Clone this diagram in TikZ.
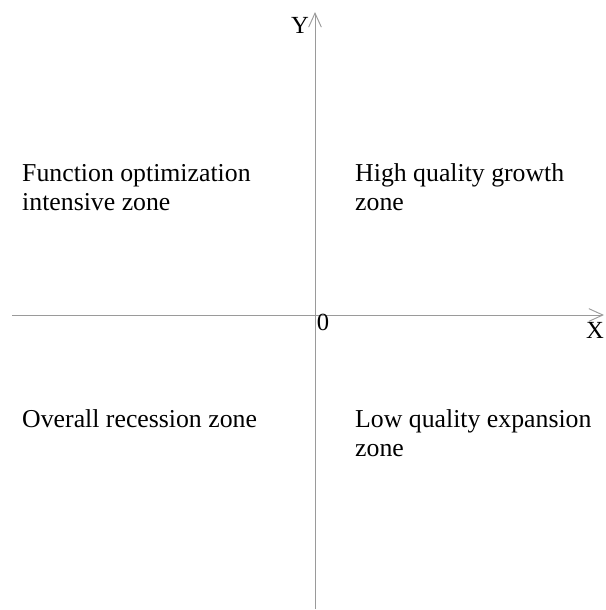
\documentclass[tikz,border=0pt]{standalone}
\usepackage{fontspec}
\setmainfont{Liberation Serif}
\usetikzlibrary{arrows.meta}
\definecolor{axisGray}{HTML}{9A9A9A}

\begin{document}
\begin{tikzpicture}[x=0.03cm, y=-0.03cm, >={Straight Barb[length=0.42cm, width=0.38cm]},
    axisline/.style={axisGray, line width=0.8pt},
    zonetext/.style={anchor=base west, align=left, inner sep=0pt, font=\fontsize{22}{24.7}\selectfont},
    axislabel/.style={inner sep=0pt, font=\fontsize{21}{24}\selectfont}]
  \useasboundingbox (0,0) rectangle (605,610);
  % axes
  \coordinate (xstart) at (12,315);
  \coordinate (xend) at (604,315);
  \coordinate (ystart) at (315,609);
  \coordinate (yend) at (315,12);
  \draw[axisline, ->] (xstart) -- (xend);
  \draw[axisline, ->] (ystart) -- (yend);
  \node[axislabel] (ylabel) at (300,25) {Y};
  \node[axislabel] (xlabel) at (595,330) {X};
  \node[axislabel] (origin) at (323,322) {0};
  % quadrants (base = last line)
  \node[zonetext] (funczone) at (22,210) {Function optimization\\intensive zone};
  \node[zonetext] (highzone) at (355,210) {High quality growth\\zone};
  \node[zonetext] (recesszone) at (22,427) {Overall recession zone};
  \node[zonetext] (lowzone) at (355,456) {Low quality expansion\\zone};
\end{tikzpicture}
\end{document}
